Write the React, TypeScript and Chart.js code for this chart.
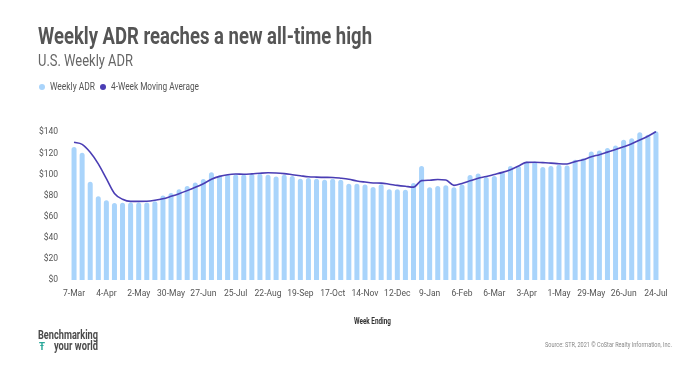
import React, { useEffect, useLayoutEffect, useRef } from "react";
import { Chart, registerables } from "chart.js";

Chart.register(...registerables);

const weeks: string[] = [
  "7-Mar", "14-Mar", "21-Mar", "28-Mar", "4-Apr", "11-Apr", "18-Apr", "25-Apr",
  "2-May", "9-May", "16-May", "23-May", "30-May", "6-Jun", "13-Jun", "20-Jun",
  "27-Jun", "4-Jul", "11-Jul", "18-Jul", "25-Jul", "1-Aug", "8-Aug", "15-Aug",
  "22-Aug", "29-Aug", "5-Sep", "12-Sep", "19-Sep", "26-Sep", "3-Oct", "10-Oct",
  "17-Oct", "24-Oct", "31-Oct", "7-Nov", "14-Nov", "21-Nov", "28-Nov", "5-Dec",
  "12-Dec", "19-Dec", "26-Dec", "2-Jan", "9-Jan", "16-Jan", "23-Jan", "30-Jan",
  "6-Feb", "13-Feb", "20-Feb", "27-Feb", "6-Mar", "13-Mar", "20-Mar", "27-Mar",
  "3-Apr", "10-Apr", "17-Apr", "24-Apr", "1-May", "8-May", "15-May", "22-May",
  "29-May", "5-Jun", "12-Jun", "19-Jun", "26-Jun", "3-Jul", "10-Jul", "17-Jul",
  "24-Jul",
];

const weeklyADR: number[] = [
  126, 120.5, 93, 79.3, 75.5, 73, 73.2, 73.5,
  73.5, 73.5, 74.6, 80, 82.5, 86, 89.2, 92.3,
  95.8, 102, 99, 100, 100, 100, 100.7, 100.7,
  99.8, 98.2, 99.8, 98.5, 96, 96.6, 96, 95.1,
  96, 95.1, 91.3, 91.3, 90.4, 88.1, 90.7, 85.9,
  85.9, 85.6, 91.9, 108, 87.8, 89, 89.7, 88,
  90.4, 99.6, 101, 97.5, 98.5, 102.3, 108, 108,
  112.4, 112.4, 107, 108, 109.3, 108.6, 114, 115.5,
  121.8, 122.8, 125, 127.5, 133, 134.4, 140, 137.6,
  141,
];

const movingAverage: number[] = [
  130.5, 128.5, 121, 110, 96, 82, 76.5, 74.5,
  74.5, 74.6, 75.5, 77, 79.3, 81.8, 84.7, 87.8,
  91.3, 95.4, 98.2, 99.8, 100.4, 100.2, 100.6, 101.2,
  101.6, 101.4, 100.8, 99.8, 98.8, 97.8, 97.5, 97.3,
  97.2, 96.5, 95.5, 93.8, 92.8, 92, 91.8, 90.8,
  89.7, 88.8, 88, 94.2, 94.6, 95.2, 94.8, 89.7,
  91.5, 94, 96.5, 98, 100, 102, 104.5, 108,
  111.5, 111.6, 111.2, 110.8, 110.2, 110, 112.2, 114,
  116.8, 118.8, 121.2, 123.6, 126.3, 129.2, 132.6, 136.3,
  140.5,
];

const yTicks: number[] = [0, 20, 40, 60, 80, 100, 120, 140];

const FONT = "Roboto, sans-serif";
const BAR_COLOR = "#a9d4fb";
const LINE_COLOR = "#4a3db4";

type FitProps = {
  left: number;
  top: number;
  width: number;
  size: number;
  weight?: number;
  color: string;
  children: React.ReactNode;
};

function FitText({ left, top, width, size, weight = 400, color, children }: FitProps) {
  const ref = useRef<HTMLSpanElement | null>(null);
  useLayoutEffect(() => {
    const el = ref.current;
    if (!el) return;
    el.style.transform = "none";
    const w = el.getBoundingClientRect().width;
    if (w > 0) el.style.transform = `scaleX(${width / w})`;
  }, [width]);
  return (
    <span
      ref={ref}
      style={{
        position: "absolute",
        left,
        top,
        display: "inline-block",
        whiteSpace: "nowrap",
        fontFamily: FONT,
        fontSize: size,
        fontWeight: weight,
        lineHeight: `${size}px`,
        color,
        transformOrigin: "left top",
      }}
    >
      {children}
    </span>
  );
}

export default function App() {
  const canvasRef = useRef<HTMLCanvasElement | null>(null);

  useEffect(() => {
    document.body.style.margin = "0";
    const canvas = canvasRef.current;
    if (!canvas) return;
    const chart = new Chart(canvas, {
      type: "bar",
      data: {
        labels: weeks,
        datasets: [
          {
            type: "line",
            label: "4-Week Moving Average",
            data: movingAverage,
            borderColor: LINE_COLOR,
            borderWidth: 1.6,
            pointRadius: 0,
            tension: 0.4,
            cubicInterpolationMode: "monotone",
            order: 0,
          } as any,
          {
            type: "bar",
            label: "Weekly ADR",
            data: weeklyADR,
            backgroundColor: BAR_COLOR,
            borderRadius: { topLeft: 3, topRight: 3, bottomLeft: 0, bottomRight: 0 },
            borderSkipped: false,
            barPercentage: 0.62,
            categoryPercentage: 1,
            order: 1,
          } as any,
        ],
      },
      options: {
        animation: false,
        responsive: false,
        devicePixelRatio: 1,
        layout: { padding: { left: 34, right: 40, top: 127, bottom: 56 } },
        plugins: { legend: { display: false }, tooltip: { enabled: false }, title: { display: false } },
        scales: {
          x: {
            grid: { display: false, drawTicks: false },
            border: { display: false },
            afterFit: (scale: any) => {
              scale.height = 30;
            },
            ticks: {
              autoSkip: false,
              maxRotation: 0,
              minRotation: 0,
              padding: 9,
              color: "#555",
              font: { family: FONT, size: 8.5 },
              callback: (_v: any, i: number) => (i % 4 === 0 ? weeks[i] : null),
            },
          },
          y: {
            min: 0,
            max: 145,
            grid: { display: false, drawTicks: false },
            border: { display: false },
            afterFit: (scale: any) => {
              scale.width = 36;
            },
            afterBuildTicks: (scale: any) => {
              scale.ticks = yTicks.map((v) => ({ value: v }));
            },
            ticks: {
              padding: 12,
              color: "#555",
              font: { family: FONT, size: 8.5 },
              callback: (v: any) => "$" + v,
            },
          },
        },
      },
    });
    return () => chart.destroy();
  }, []);

  return (
    <div style={{ position: "fixed", left: 0, top: 0, width: 700, height: 366, background: "#fff", overflow: "hidden" }}>
      <canvas ref={canvasRef} width={700} height={366} style={{ position: "absolute", left: 0, top: 0, width: 700, height: 366 }} />
      <FitText left={38} top={25} width={334} size={23.5} weight={700} color="#555">Weekly ADR reaches a new all-time high</FitText>
      <FitText left={38} top={53} width={95} size={16} color="#666">U.S. Weekly ADR</FitText>
      <div style={{ position: "absolute", left: 39, top: 84, width: 6, height: 6, borderRadius: 3, background: BAR_COLOR }} />
      <FitText left={50} top={82} width={45} size={10} color="#555">Weekly ADR</FitText>
      <div style={{ position: "absolute", left: 100, top: 84, width: 6, height: 6, borderRadius: 3, background: LINE_COLOR }} />
      <FitText left={111} top={82} width={88} size={10} color="#555">4-Week Moving Average</FitText>
      <FitText left={354} top={317} width={37} size={8.5} weight={700} color="#333">Week Ending</FitText>
      <FitText left={38} top={329} width={60} size={12.5} weight={700} color="#4a4a4a">Benchmarking</FitText>
      <FitText left={39} top={341} width={6} size={11} weight={700} color="#2aa89a">Ŧ</FitText>
      <FitText left={54} top={340} width={44} size={12.5} weight={700} color="#4a4a4a">your world</FitText>
      <FitText left={545} top={341} width={127} size={7.5} color="#888">Source: STR, 2021 © CoStar Realty Information, Inc.</FitText>
    </div>
  );
}
